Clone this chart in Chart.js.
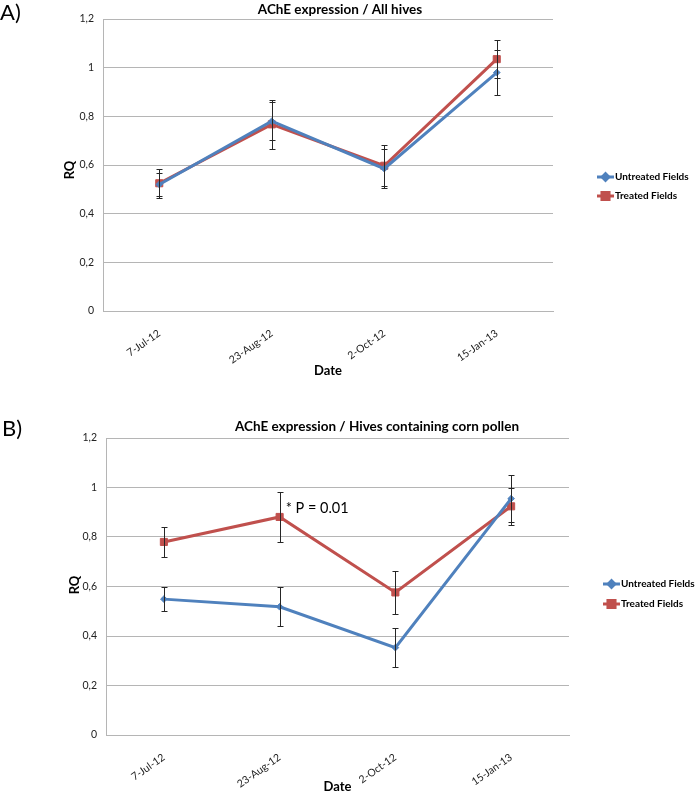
<!DOCTYPE html>
<html>
<head>
<meta charset="utf-8">
<script src="https://cdn.jsdelivr.net/npm/chart.js@4.4.1/dist/chart.umd.min.js"></script>
<style>
  body { margin: 0; background: #fff; }
  #wrap { position: relative; width: 696px; height: 794px; }
  canvas { position: absolute; left: 0; }
  #chart-a { top: 0; }
  #chart-b { top: 397px; }
</style>
</head>
<body>
<div id="wrap">
  <canvas id="chart-a" width="696" height="397"></canvas>
  <canvas id="chart-b" width="696" height="397"></canvas>
</div>
<script>
const dates = ["7-Jul-12", "23-Aug-12", "2-Oct-12", "15-Jan-13"];
const yTicks = [0, 0.2, 0.4, 0.6, 0.8, 1, 1.2];

// A) all hives
const allUntreated = [0.52, 0.78, 0.585, 0.98];
const allUntreatedErr = [0.047, 0.077, 0.08, 0.094];
const allTreated = [0.525, 0.767, 0.597, 1.035];
const allTreatedErr = [0.06, 0.1, 0.085, 0.077];

// B) hives containing corn pollen
const cornUntreated = [0.549, 0.518, 0.353, 0.955];
const cornUntreatedErr = [0.05, 0.078, 0.079, 0.095];
const cornTreated = [0.78, 0.881, 0.576, 0.924];
const cornTreatedErr = [0.06, 0.1, 0.087, 0.075];

const BLUE = "#4F81BD";
const RED = "#C0504D";
const FONT = "Lato, 'Open Sans', sans-serif";
const GRID = "#b5b5b5";

const decorPlugin = {
  id: "decor",
  afterDatasetsDraw(chart) {
    const ctx = chart.ctx;
    const xs = chart.scales.x;
    const ys = chart.scales.y;
    ctx.save();
    ctx.strokeStyle = "#262626";
    ctx.lineWidth = 1;
    chart.data.datasets.forEach((ds) => {
      ds.data.forEach((v, i) => {
        const e = ds.errors[i];
        const px = Math.round(xs.getPixelForValue(i)) + 0.5;
        const top = Math.round(ys.getPixelForValue(v + e)) + 0.5;
        const bot = Math.round(ys.getPixelForValue(v - e)) + 0.5;
        ctx.beginPath();
        ctx.moveTo(px, top);
        ctx.lineTo(px, bot);
        ctx.moveTo(px - 3, top);
        ctx.lineTo(px + 3, top);
        ctx.moveTo(px - 3, bot);
        ctx.lineTo(px + 3, bot);
        ctx.stroke();
      });
    });
    ctx.restore();
  },
  afterDraw(chart, args, opts) {
    const ctx = chart.ctx;
    const area = chart.chartArea;
    ctx.save();
    ctx.fillStyle = "#000";
    ctx.textBaseline = "middle";

    // panel letter
    ctx.font = "22px " + FONT;
    ctx.textAlign = "left";
    ctx.fillText(opts.panel, opts.panelX, opts.panelY);

    // title
    ctx.font = "bold 13.5px " + FONT;
    ctx.textAlign = "center";
    ctx.fillText(opts.title, opts.titleX, opts.titleY);

    // axis titles
    ctx.font = "bold 13px " + FONT;
    ctx.fillText("Date", (area.left + area.right) / 2, opts.dateY);
    ctx.save();
    ctx.translate(opts.rqX, opts.rqY);
    ctx.rotate(-Math.PI / 2);
    ctx.fillText("RQ", 0, 0);
    ctx.restore();

    // legend
    ctx.font = "bold 10px " + FONT;
    ctx.textAlign = "left";
    chart.data.datasets.forEach((ds, i) => {
      const ly = opts.legendY + i * opts.legendGap;
      ctx.strokeStyle = ds.borderColor;
      ctx.fillStyle = ds.borderColor;
      ctx.lineWidth = 3;
      ctx.beginPath();
      ctx.moveTo(opts.legendX, ly);
      ctx.lineTo(opts.legendX + 17, ly);
      ctx.stroke();
      Chart.helpers.drawPoint(ctx, {
        pointStyle: ds.pointStyle,
        radius: ds.pointRadius,
        rotation: 0,
        borderWidth: 1,
      }, opts.legendX + 8.5, ly);
      ctx.fillStyle = "#000";
      ctx.fillText(ds.label, opts.legendX + 18, ly);
    });

    // significance note next to a treated point
    if (opts.note) {
      const ds = chart.data.datasets[1];
      const nx = chart.scales.x.getPixelForValue(opts.noteIndex) + 6;
      const ny = chart.scales.y.getPixelForValue(ds.data[opts.noteIndex]) - 9;
      ctx.font = "14.5px " + FONT;
      ctx.fillText(opts.note, nx, ny);
    }
    ctx.restore();
  },
};

function makeDatasets(untreated, untreatedErr, treated, treatedErr) {
  return [
    {
      label: "Untreated Fields",
      data: untreated,
      errors: untreatedErr,
      borderColor: BLUE,
      backgroundColor: BLUE,
      borderWidth: 3,
      pointStyle: "rectRot",
      pointRadius: 3.3,
      pointBorderWidth: 1,
      tension: 0,
    },
    {
      label: "Treated Fields",
      data: treated,
      errors: treatedErr,
      borderColor: RED,
      backgroundColor: RED,
      borderWidth: 3,
      pointStyle: "rect",
      pointRadius: 5,
      pointBorderWidth: 1,
      tension: 0,
    },
  ];
}

function renderChart(canvasId, datasets, layout, decor) {
  const ctx = document.getElementById(canvasId).getContext("2d");
  return new Chart(ctx, {
    type: "line",
    data: {
      labels: dates,
      datasets: datasets,
    },
    plugins: [decorPlugin],
    options: {
      responsive: false,
      animation: false,
      layout: {
        padding: { left: 0, top: layout.top, right: layout.right, bottom: 0 },
      },
      scales: {
        x: {
          offset: true,
          grid: { display: false },
          border: { display: true, color: GRID },
          ticks: {
            minRotation: 35,
            maxRotation: 35,
            padding: 8,
            color: "#222",
            font: { family: FONT, size: 10.5 },
          },
          afterFit: (scale) => {
            scale.height = layout.xHeight;
          },
        },
        y: {
          min: 0,
          max: 1.2,
          grid: { color: GRID, drawTicks: false },
          border: { display: true, color: GRID },
          afterBuildTicks: (scale) => {
            scale.ticks = yTicks.map((v) => ({ value: v }));
          },
          ticks: {
            padding: 9,
            color: "#222",
            font: { family: FONT, size: 10.5 },
            callback: (v) => String(Math.round(v * 10) / 10).replace(".", ","),
          },
          afterFit: (scale) => {
            scale.width = layout.yWidth;
          },
        },
      },
      plugins: {
        legend: { display: false },
        title: { display: false },
        tooltip: { enabled: false },
        decor: decor,
      },
    },
  });
}

renderChart(
  "chart-a",
  makeDatasets(allUntreated, allUntreatedErr, allTreated, allTreatedErr),
  { top: 19, right: 143, yWidth: 103, xHeight: 86 },
  {
    panel: "A)", panelX: 0, panelY: 13,
    title: "AChE expression / All hives", titleX: 340, titleY: 10,
    rqX: 70, rqY: 170, dateY: 371,
    legendX: 597, legendY: 177, legendGap: 19,
  }
);

renderChart(
  "chart-b",
  makeDatasets(cornUntreated, cornUntreatedErr, cornTreated, cornTreatedErr),
  { top: 41, right: 127, yWidth: 106, xHeight: 59 },
  {
    panel: "B)", panelX: 2, panelY: 32,
    title: "AChE expression / Hives containing corn pollen", titleX: 377, titleY: 30,
    rqX: 75, rqY: 188, dateY: 390,
    legendX: 603, legendY: 187, legendGap: 20,
    note: "* P = 0.01", noteIndex: 1,
  }
);
</script>
</body>
</html>
